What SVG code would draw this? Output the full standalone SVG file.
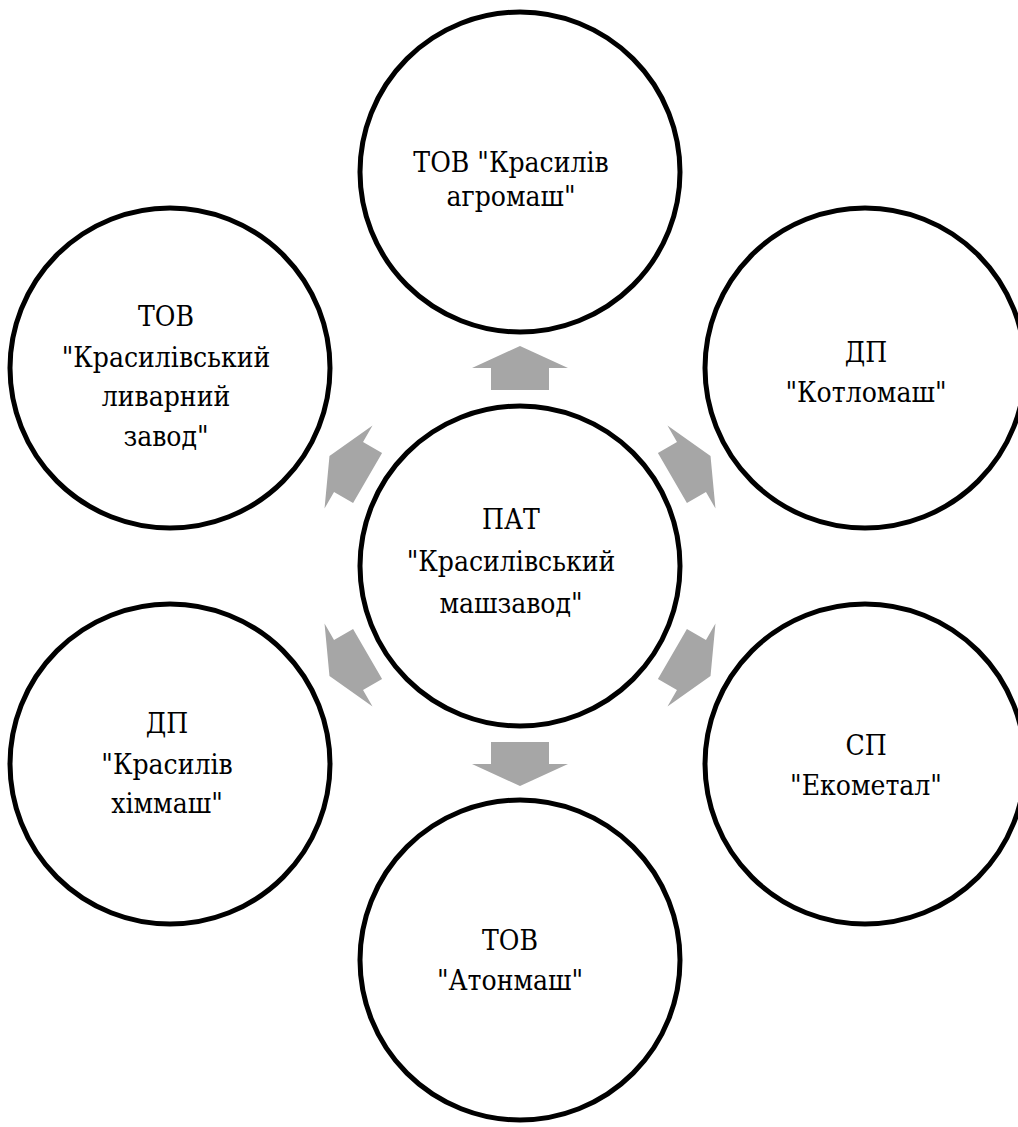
<svg xmlns="http://www.w3.org/2000/svg" width="1018" height="1127" viewBox="0 0 1018 1127">
<style>
.node circle{fill:#fff;stroke:#000;stroke-width:5}
.node text{font-family:'DejaVu Serif Condensed','DejaVu Serif','Liberation Serif',serif;font-stretch:condensed;font-size:28px;fill:#000;text-anchor:middle}
.arr{fill:#a6a6a6}
</style>
<defs>
<polygon id="arrow" points="0,-220 48,-198 29,-198 29,-176 -29,-176 -29,-198 -48,-198"/>
</defs>
<rect width="1018" height="1127" fill="#fff"/>
<g id="center" class="node">
<circle cx="520" cy="566" r="160"/>
<text x="511" y="529">ПАТ</text>
<text x="511" y="571">"Красилівський</text>
<text x="511" y="613">машзавод"</text>
</g>
<g id="top" class="node">
<circle cx="520" cy="172" r="160"/>
<text x="511" y="172">ТОВ "Красилів</text>
<text x="511" y="206">агромаш"</text>
</g>
<g id="topright" class="node">
<circle cx="865" cy="368" r="160"/>
<text x="866" y="362">ДП</text>
<text x="866" y="402">"Котломаш"</text>
</g>
<g id="bottomright" class="node">
<circle cx="865" cy="764" r="160"/>
<text x="866" y="755">СП</text>
<text x="866" y="795">"Екометал"</text>
</g>
<g id="bottom" class="node">
<circle cx="520" cy="960" r="160"/>
<text x="510" y="950">ТОВ</text>
<text x="510" y="990">"Атонмаш"</text>
</g>
<g id="bottomleft" class="node">
<circle cx="170" cy="764" r="160"/>
<text x="167" y="733">ДП</text>
<text x="167" y="774">"Красилів</text>
<text x="167" y="813">хіммаш"</text>
</g>
<g id="topleft" class="node">
<circle cx="170" cy="368" r="160"/>
<text x="166" y="326">ТОВ</text>
<text x="166" y="367">"Красилівський</text>
<text x="166" y="406">ливарний</text>
<text x="166" y="446">завод"</text>
</g>
<g id="connectors" class="arr">
<use href="#arrow" transform="translate(520 566)"/>
<use href="#arrow" transform="translate(520 566) rotate(60)"/>
<use href="#arrow" transform="translate(520 566) rotate(120)"/>
<use href="#arrow" transform="translate(520 566) rotate(180)"/>
<use href="#arrow" transform="translate(520 566) rotate(240)"/>
<use href="#arrow" transform="translate(520 566) rotate(300)"/>
</g>
</svg>
